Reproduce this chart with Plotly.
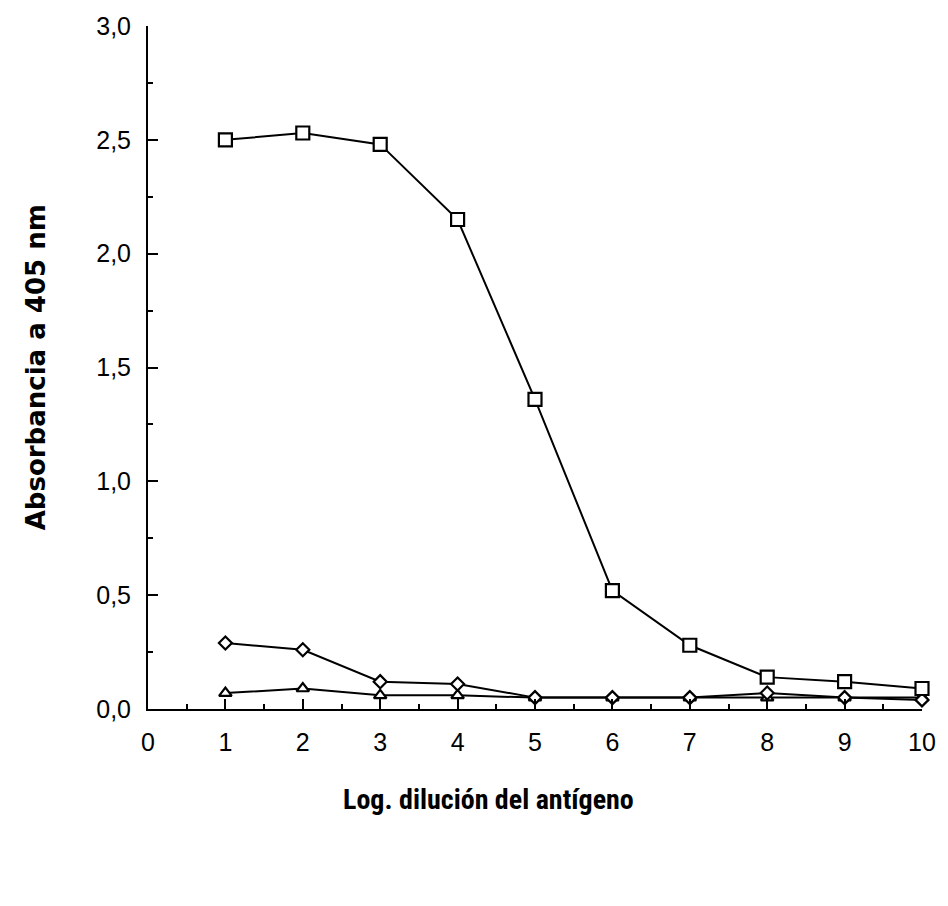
import plotly.graph_objects as go

# Log dilution of the antigen (x) and absorbance at 405 nm for each serum
dilucion = [1, 2, 3, 4, 5, 6, 7, 8, 9, 10]
abs_cuadrado = [2.50, 2.53, 2.48, 2.15, 1.36, 0.52, 0.28, 0.14, 0.12, 0.09]
abs_rombo = [0.29, 0.26, 0.12, 0.11, 0.05, 0.05, 0.05, 0.07, 0.05, 0.04]
abs_triangulo = [0.07, 0.09, 0.06, 0.06, 0.05, 0.05, 0.05, 0.05, 0.05, 0.05]

x_ticks = list(range(0, 11))
y_ticks = [0.0, 0.5, 1.0, 1.5, 2.0, 2.5, 3.0]

fig = go.Figure()

# white-filled markers with a black outline hide the connecting line
series = [
    (abs_triangulo, "triangle-up", 11),
    (abs_rombo, "diamond", 10),
    (abs_cuadrado, "square", 13),
]
for vals, sym, size in series:
    fig.add_trace(go.Scatter(
        x=dilucion, y=vals, mode="lines+markers",
        line=dict(color="black", width=2),
        marker=dict(symbol=sym, size=size, color="white",
                    line=dict(color="black", width=2.2)),
        cliponaxis=False, showlegend=False,
    ))

tick_font = dict(family="Liberation Sans, Arial, sans-serif", size=25, color="black")

fig.update_layout(
    width=948, height=906,
    margin=dict(l=148, r=21, t=22, b=197),
    paper_bgcolor="white", plot_bgcolor="white",
    separators=", ",
    xaxis=dict(
        range=[0, 10], tickvals=x_ticks, ticktext=[str(v) for v in x_ticks],
        showline=True, linecolor="black", linewidth=2,
        ticks="inside", ticklen=10, tickwidth=2, tickcolor="black",
        minor=dict(dtick=0.5, ticks="inside", ticklen=5, tickwidth=2, tickcolor="black", showgrid=False),
        showgrid=False, zeroline=False, tickfont=tick_font, ticklabelstandoff=10,
    ),
    yaxis=dict(
        range=[0, 3], tickvals=y_ticks, tickformat=".1f",
        showline=True, linecolor="black", linewidth=2,
        ticks="inside", ticklen=10, tickwidth=2, tickcolor="black",
        minor=dict(dtick=0.25, ticks="inside", ticklen=5, tickwidth=2, tickcolor="black", showgrid=False),
        showgrid=False, zeroline=False, tickfont=tick_font, ticklabelstandoff=10,
    ),
    annotations=[
        dict(text="<b>Log. dilución del antígeno</b>", xref="paper", yref="paper",
             x=0.44, y=-0.133, xanchor="center", yanchor="middle", showarrow=False,
             font=dict(family="Liberation Sans Narrow, Roboto Condensed, Arial Narrow, sans-serif",
                       size=28, color="black")),
        dict(text="<b>Absorbancia a 405 nm</b>", xref="paper", yref="paper",
             x=-0.145, y=0.50, xanchor="center", yanchor="middle", showarrow=False,
             textangle=-90,
             font=dict(family="DejaVu Sans, sans-serif", size=26, color="black")),
    ],
)

fig.write_html("out.html")
